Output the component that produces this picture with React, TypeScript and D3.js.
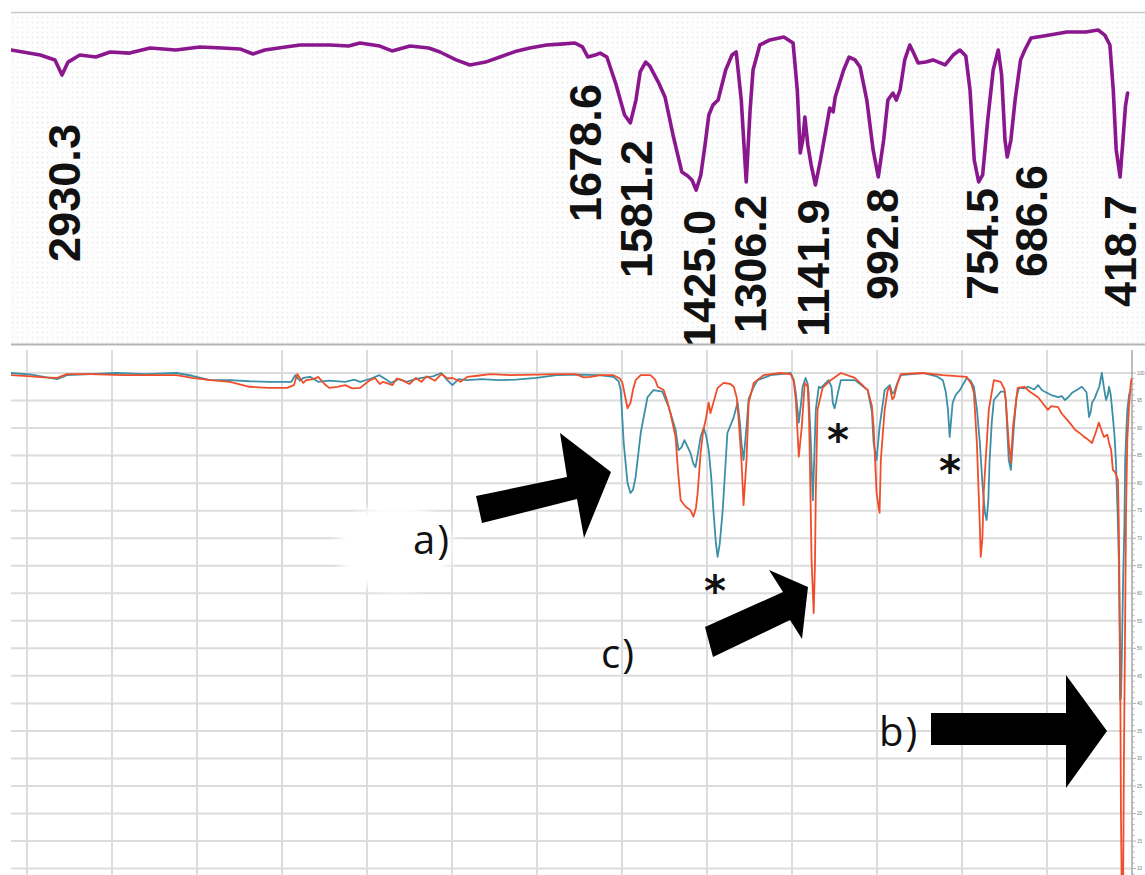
import React from "react";
import * as d3 from "d3";

// ---- Top panel: purple reference spectrum (wavenumber cm-1, relative transmittance) ----
const topSpectrum: [number, number][] = [
  [3051, 86.1], [2982, 83.3], [2947, 80.6], [2930.3, 72.2], [2916, 79.4], [2888, 83.3], [2850, 82.2],
  [2816, 85], [2770, 84.4], [2721, 87.2], [2660, 86.1], [2603, 87.8], [2550, 87.2], [2508, 86.7],
  [2477, 83.9], [2449, 86.1], [2400, 87.8], [2365, 88.9], [2294, 88.9], [2250, 88.3], [2223, 90],
  [2176, 88.3], [2147, 85.6], [2104, 88.3], [2060, 87.2], [2033, 85], [1995, 80.6], [1962, 77.8],
  [1925, 79.4], [1891, 82.2], [1850, 85.6], [1820, 87.2], [1780, 88.9], [1748, 89.4], [1713, 90],
  [1695, 87.8], [1682, 82.2], [1665, 83.3], [1653, 84.4], [1637, 82.2], [1615, 66.7], [1595, 50],
  [1581.2, 45.6], [1568, 58.3], [1558, 73.9], [1545, 79.4], [1535, 77.2], [1515, 68.3], [1499, 60],
  [1480, 38.9], [1459, 18.3], [1445, 16.1], [1435, 13.9], [1425, 8.3], [1414, 16.7], [1404, 33.3],
  [1395, 50], [1385, 55.6], [1373, 58.3], [1355, 75], [1340, 83.3], [1330, 85], [1318, 58.3],
  [1306.2, 12.8], [1297, 52.8], [1290, 75], [1274, 88.9], [1250, 91.7], [1217, 93.3], [1195, 90],
  [1185, 63.9], [1178, 28.9], [1172, 36.1], [1167, 48.9], [1160, 33.3], [1152, 22.2], [1141.9, 11.1],
  [1130, 25], [1116, 43.3], [1108, 53.9], [1100, 51.7], [1095, 60], [1075, 75], [1062, 82.2],
  [1048, 80.6], [1036, 76.7], [1020, 58.3], [1005, 30.6], [992.8, 15.6], [980, 36.1], [970, 58.3],
  [958, 62.2], [950, 58.3], [941, 63.9], [930, 80.6], [918, 88.9], [910, 85], [898, 78.9],
  [880, 79.4], [863, 80.6], [834, 77.8], [815, 83.3], [799, 86.1], [785, 82.8], [775, 63.9],
  [765, 25], [754.5, 12.8], [745, 16.7], [733, 47.2], [720, 75], [708, 86.1], [700, 72.2],
  [692, 36.1], [686.6, 26.7], [678, 36.1], [668, 58.3], [655, 80.6], [645, 86.1], [630, 92.8],
  [600, 93.9], [545, 96.1], [500, 96.1], [471, 97.2], [455, 94.4], [443, 88.9], [435, 63.9],
  [428, 30.6], [418.7, 15.6], [412, 36.1], [406, 55], [401, 62.2],
];

const peakLabels = ["2930.3", "1678.6", "1581.2", "1425.0", "1306.2", "1141.9", "992.8", "754.5", "686.6", "418.7"];
const peakWavenumbers = [2930.3, 1678.6, 1581.2, 1425.0, 1306.2, 1141.9, 992.8, 754.5, 686.6, 418.7];

// ---- Bottom panel: two overlaid spectra (wavenumber cm-1, %T) ----
const redSpectrum: [number, number][] = [
  [3038, 99.6], [2990, 99.4], [2960, 99.2], [2929, 99.1], [2906, 99.8], [2852, 99.8], [2774, 99.6],
  [2711, 99.6], [2649, 99.6], [2611, 99.1], [2569, 98.7], [2522, 98.4], [2477, 97.5], [2432, 97.3],
  [2388, 97.3], [2372, 97.8], [2364, 99.8], [2350, 98.2], [2343, 98.7], [2325, 98.9], [2315, 99.3],
  [2300, 98.0], [2289, 97.3], [2270, 97.5], [2251, 97.8], [2235, 97.2], [2216, 97.3], [2195, 98.6],
  [2181, 99.1], [2170, 98.0], [2162, 98.4], [2140, 97.8], [2130, 99.0], [2117, 98.7], [2100, 98.0],
  [2085, 99.1], [2072, 98.4], [2060, 99.4], [2040, 98.6], [2025, 99.8], [2010, 99.0], [1999, 99.1],
  [1980, 98.4], [1964, 99.3], [1940, 99.5], [1910, 99.8], [1862, 99.6], [1800, 99.7], [1754, 99.8],
  [1709, 99.8], [1690, 99.2], [1674, 99.3], [1650, 99.6], [1620, 99.6], [1605, 99.0], [1599, 98.2],
  [1592, 95.5], [1587, 93.6], [1580, 94.6], [1574, 97.0], [1568, 98.7], [1556, 99.6], [1533, 99.6],
  [1522, 98.8], [1516, 97.5], [1502, 96.9], [1494, 95.0], [1486, 92.7], [1474, 88.4], [1468, 82],
  [1462, 76.9], [1450, 75.7], [1439, 75.1], [1432, 73.9], [1426, 75.5], [1422, 78.2], [1415, 85.5],
  [1409, 89.5], [1403, 91.5], [1396, 94.6], [1392, 92.7], [1385, 94.6], [1375, 97.3], [1361, 98.2],
  [1345, 98.0], [1337, 97.5], [1330, 95.5], [1326, 92], [1319, 84.2], [1314, 76], [1307, 84.2],
  [1302, 94.6], [1290, 98.2], [1267, 99.6], [1227, 100], [1203, 99.8], [1196, 98.5], [1191, 95.1],
  [1184, 84.8], [1177, 90.2], [1170, 98.2], [1163, 97.5], [1160, 92], [1158, 84.2], [1154, 66.1],
  [1149, 56.4], [1146, 65], [1144, 78.2], [1140, 93.3], [1128, 97.3], [1109, 98.7], [1085, 100],
  [1052, 99.1], [1022, 96.9], [1012, 94], [1008, 90.2], [1001, 78.2], [994, 74.6], [991, 84.2],
  [982, 93.3], [975, 96.8], [970, 97.5], [964, 95.2], [960, 95.6], [953, 97.8], [944, 99.8],
  [892, 100], [845, 99.6], [789, 99.3], [778, 98.0], [772, 96.4], [765, 87.3], [758, 72.1],
  [756, 66.6], [752, 70], [749, 78.2], [737, 93.3], [725, 98.7], [709, 98.4], [700, 97], [697, 95.1],
  [690, 87.3], [685, 83.7], [680, 90.2], [669, 97.3], [654, 97.5], [640, 96.6], [621, 95.6],
  [610, 94.5], [598, 93.3], [590, 94.0], [574, 93.8], [565, 92.6], [558, 92], [545, 90.8],
  [534, 89.7], [520, 88.9], [513, 88.4], [505, 88.0], [494, 87.3], [484, 89.5], [478, 91],
  [470, 89.2], [466, 88.4], [458, 88.8], [454, 87.3], [449, 86.0], [445, 82.4], [440, 82.0],
  [433, 80.6], [431, 72], [428, 50], [426, 20], [424, 5], [421, 5], [419, 30], [416, 56], [414, 75],
  [411, 88], [407, 94], [403, 98], [401, 99],
];

const tealSpectrum: [number, number][] = [
  [3038, 100], [2990, 99.7], [2960, 99.3], [2929, 98.9], [2906, 99.6], [2850, 99.8], [2793, 100],
  [2720, 99.8], [2649, 100], [2611, 99.5], [2569, 98.7], [2522, 98.7], [2477, 98.5], [2432, 98.4],
  [2378, 98.4], [2369, 99.6], [2358, 98.6], [2350, 99.1], [2334, 99.3], [2315, 98.4], [2290, 98.6],
  [2251, 98.4], [2230, 98.8], [2216, 98.4], [2190, 99.0], [2171, 99.6], [2155, 98.8], [2143, 98.2],
  [2125, 98.9], [2107, 98.4], [2090, 98.8], [2072, 99.1], [2045, 99.4], [2025, 100], [2010, 98.6],
  [1999, 97.8], [1985, 98.9], [1964, 98.7], [1930, 98.9], [1891, 98.7], [1850, 98.8], [1801, 99.1],
  [1754, 99.6], [1700, 99.7], [1655, 99.6], [1620, 99.3], [1608, 98.5], [1603, 96.9], [1596, 87.3],
  [1587, 80], [1580, 78.2], [1574, 78.8], [1568, 81.1], [1556, 89.1], [1540, 95.6], [1526, 96.9],
  [1505, 96.6], [1490, 93.8], [1474, 89.7], [1467, 86], [1460, 86.5], [1453, 87.8], [1445, 86.5],
  [1439, 85.5], [1432, 83.5], [1427, 82.9], [1420, 86], [1415, 88.4], [1408, 90], [1402, 88.6],
  [1396, 86], [1390, 81], [1385, 75.1], [1379, 69], [1375, 66.6], [1370, 69], [1363, 75.1],
  [1352, 89.1], [1337, 92], [1328, 94.7], [1322, 90.5], [1319, 87.3], [1314, 84.2], [1307, 90.2],
  [1302, 95.3], [1290, 97.5], [1281, 98.7], [1250, 99.6], [1203, 100], [1196, 98.8], [1191, 96.4],
  [1184, 91], [1178, 95], [1175, 97.5], [1168, 99.1], [1163, 98.0], [1161, 96.4], [1156, 88],
  [1151, 76.9], [1147, 86], [1144, 93.3], [1137, 97.5], [1132, 97.3], [1114, 98.7], [1107, 97.5],
  [1104, 94.6], [1100, 93.6], [1096, 94.8], [1092, 96.4], [1085, 98.7], [1052, 98.7], [1022, 96.9],
  [1012, 93], [1008, 87.3], [1001, 84.2], [994, 90.2], [982, 96.9], [970, 97.8], [964, 96.3],
  [960, 96.4], [953, 98.0], [944, 99.6], [892, 100], [860, 99.4], [845, 98.7], [838, 96.5],
  [833, 93.3], [829, 88.4], [825, 92], [822, 94.6], [815, 96.0], [805, 96.9], [789, 99.1],
  [780, 98.6], [772, 97.5], [765, 93.5], [758, 87.3], [752, 80], [746, 74.6], [742, 73.3],
  [738, 77], [735, 84.2], [730, 91], [725, 95.1], [709, 96.6], [700, 96.6], [697, 95.1], [690, 84.2],
  [685, 82.4], [678, 90.2], [672, 95.5], [666, 97.3], [655, 97.2], [645, 97.5], [630, 97.0],
  [621, 97.8], [612, 96.9], [605, 96.6], [590, 96.0], [574, 95.6], [565, 95.8], [558, 95.1],
  [550, 95.6], [541, 96.4], [530, 96.9], [518, 97.5], [507, 96.5], [501, 92], [497, 93], [494, 94.6],
  [488, 95.4], [483, 96.4], [477, 97.5], [471, 100], [466, 97.3], [461, 95.1], [457, 96], [454, 97.5],
  [450, 96], [445, 92], [441, 88.5], [438, 84.2], [434, 75], [431, 66.1], [429, 52], [428, 40.6],
  [426, 41], [424, 48], [421, 62], [418, 72], [416, 84.2], [413, 90], [411, 93.3], [407, 96], [403, 97],
];

const gridWavenumbers = [3000, 2800, 2600, 2400, 2200, 2000, 1800, 1600, 1400, 1200, 1000, 800, 600];
const gridTransmittance = [100, 95, 90, 85, 80, 75, 70, 65, 60, 55, 50, 45, 40, 35, 30, 25, 20, 15, 10];

// ---- layout (not data) ----
const labelNudge = [2, -4, 6, 3, 4, -2, 4, 3, 24, 0];
const labelStartY = [262, 222, 278, 348, 333, 337, 300, 300, 277, 307];

export default function App() {
  const W = 1145;
  const H = 875;

  const xTop = d3.scaleLinear().domain([3051.4, 383.4]).range([11, 1135]);
  const yTop = d3.scaleLinear().domain([0, 100]).range([205, 25]);
  const xBot = d3.scaleLinear().domain([3000, 400]).range([27, 1132]);
  const yBot = d3.scaleLinear().domain([10, 100]).range([868.6, 373]);

  const lineTop = d3
    .line<[number, number]>()
    .x((d) => xTop(d[0]))
    .y((d) => yTop(d[1]));
  const lineBot = d3
    .line<[number, number]>()
    .x((d) => xBot(d[0]))
    .y((d) => yBot(d[1]));

  const axisX = xBot(400);
  const minorTicks = d3.range(9, 101, 1);

  const arrowA = [[476, 496], [567, 477], [560, 433], [611, 472], [584, 538], [577, 499], [482, 523]];
  const arrowC = [[705, 627], [783, 592], [769, 570], [808, 587], [802, 639], [790, 620], [713, 657]];
  const arrowB = [[931, 713], [1066, 713], [1066, 675], [1107, 731], [1066, 788], [1066, 745], [931, 745]];
  const poly = (p: number[][]) => p.map((q) => q.join(",")).join(" ");

  return (
    <svg
      width={W}
      height={H}
      viewBox={`0 0 ${W} ${H}`}
      style={{ position: "fixed", left: 0, top: 0, background: "#ffffff" }}
    >
      <defs>
        <pattern id="dots" width="5" height="5" patternUnits="userSpaceOnUse">
          <circle cx="2.5" cy="2.5" r="0.7" fill="#e6e6e6" />
        </pattern>
        <clipPath id="topClip">
          <rect x={11} y={13} width={1134} height={331} />
        </clipPath>
        <clipPath id="botClip">
          <rect x={11} y={346} width={axisX - 11 + 1} height={H - 346} />
        </clipPath>
        <filter id="blur" x="-30%" y="-30%" width="160%" height="160%">
          <feGaussianBlur stdDeviation="5" />
        </filter>
      </defs>

      <rect x={0} y={0} width={W} height={H} fill="#ffffff" />

      {/* ---------- top panel ---------- */}
      <rect x={11} y={13} width={1134} height={331} fill="#fdfdfd" />
      <rect x={11} y={13} width={1134} height={331} fill="url(#dots)" />
      <line x1={11} x2={W} y1={12.5} y2={12.5} stroke="#c9c9c9" strokeWidth={1.5} />
      <g clipPath="url(#topClip)">
        <path
          d={lineTop(topSpectrum) || ""}
          fill="none"
          stroke="#8a178e"
          strokeWidth={3.6}
          strokeLinejoin="round"
          strokeLinecap="round"
        />
        {peakLabels.map((lab, i) => {
          const cx = xTop(peakWavenumbers[i]) + labelNudge[i];
          const len = lab.length === 6 ? 138 : 112;
          return (
            <text
              key={lab}
              transform={`translate(${cx + 16},${labelStartY[i]}) rotate(-90)`}
              fontFamily="'Liberation Sans', Arial, sans-serif"
              fontWeight="bold"
              fontSize={45}
              fill="#111"
              textLength={len}
              lengthAdjust="spacingAndGlyphs"
            >
              {lab}
            </text>
          );
        })}
      </g>
      <line x1={11} x2={W} y1={344.5} y2={344.5} stroke="#b5b5b5" strokeWidth={2} />

      {/* ---------- bottom panel ---------- */}
      <g>
        {gridTransmittance.map((v) => (
          <line key={"h" + v} x1={11} x2={axisX} y1={yBot(v)} y2={yBot(v)} stroke="#dcdcdc" strokeWidth={2} />
        ))}
        {gridWavenumbers.map((w) => (
          <line key={"v" + w} x1={xBot(w)} x2={xBot(w)} y1={350} y2={H} stroke="#dcdcdc" strokeWidth={2} />
        ))}
      </g>

      {/* white smudge behind a) */}
      <ellipse cx={395} cy={548} rx={58} ry={44} fill="#ffffff" filter="url(#blur)" />
      <ellipse cx={395} cy={548} rx={50} ry={36} fill="#ffffff" />

      {/* right axis */}
      <line x1={axisX} x2={axisX} y1={350} y2={H} stroke="#a6a6a6" strokeWidth={1.5} />
      {minorTicks.map((v) => (
        <line
          key={"t" + v}
          x1={axisX}
          x2={axisX + (v % 5 === 0 ? 4 : 2.5)}
          y1={yBot(v)}
          y2={yBot(v)}
          stroke="#b0b0b0"
          strokeWidth={1}
        />
      ))}
      {gridTransmittance.map((v) => (
        <text
          key={"l" + v}
          x={axisX + 5}
          y={yBot(v) + 1.8}
          fontFamily="'Liberation Sans', Arial, sans-serif"
          fontSize={4.5}
          fill="#777"
        >
          {v}
        </text>
      ))}

      <g clipPath="url(#botClip)">
        <path d={lineBot(tealSpectrum) || ""} fill="none" stroke="#3b8fa6" strokeWidth={1.8} strokeLinejoin="round" />
        <path d={lineBot(redSpectrum) || ""} fill="none" stroke="#f04e2a" strokeWidth={1.8} strokeLinejoin="round" />
      </g>

      {/* annotations */}
      <polygon points={poly(arrowA)} fill="#000" />
      <polygon points={poly(arrowC)} fill="#000" />
      <polygon points={poly(arrowB)} fill="#000" />

      <g fontFamily="'Open Sans', 'DejaVu Sans', sans-serif" fontSize={40} fill="#111">
        <text x={413} y={554} letterSpacing={2}>a)</text>
        <text x={601} y={668} letterSpacing={2}>c)</text>
        <text x={879} y={746} letterSpacing={2}>b)</text>
      </g>

      <g fontFamily="'DejaVu Sans', sans-serif" fontSize={42} fontWeight="bold" fill="#111" textAnchor="middle">
        <text x={715} y={606}>*</text>
        <text x={838} y={455}>*</text>
        <text x={950} y={486}>*</text>
      </g>
    </svg>
  );
}
